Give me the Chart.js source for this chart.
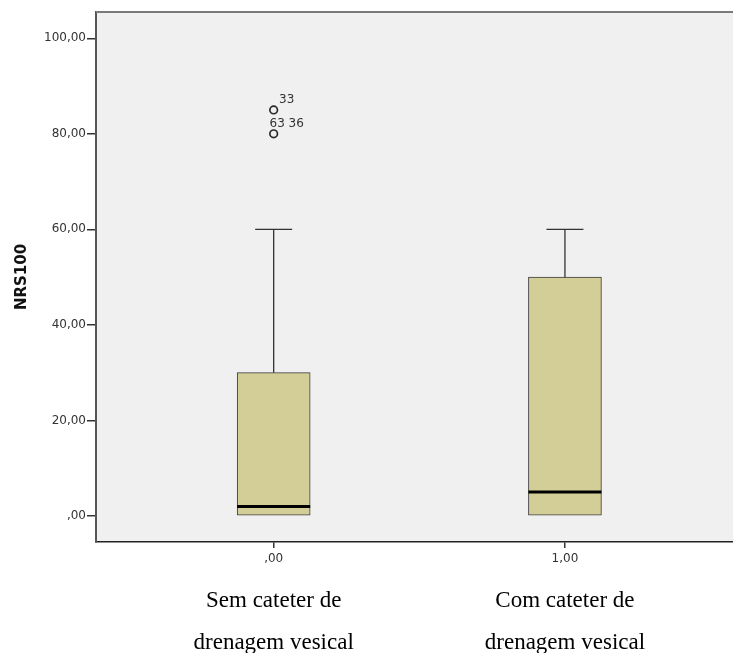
<!DOCTYPE html>
<html>
<head>
<meta charset="utf-8">
<script src="https://cdn.jsdelivr.net/npm/chart.js@4/dist/chart.umd.min.js"></script>
<style>
  html, body { margin: 0; padding: 0; background: #ffffff; }
  #wrap { width: 733px; height: 653px; }
</style>
</head>
<body>
<div id="wrap"><canvas id="c" width="733" height="653"></canvas></div>
<script>
// ---- data ----
const categories = ['Sem cateter de\ndrenagem vesical', 'Com cateter de\ndrenagem vesical'];
const groupCodes = [0, 1];
const xTickLabels = [',00', '1,00'];
const yTickValues = [0, 20, 40, 60, 80, 100];
const yTickLabels = [',00', '20,00', '40,00', '60,00', '80,00', '100,00'];
const whiskerLow = [0, 0];
const q1 = [0, 0];
const median = [2, 5];
const q3 = [30, 50];
const whiskerHigh = [60, 60];
const outlierGroup = [0, 0];
const outlierValue = [85, 80];
const outlierLabel = ['33', '63 36'];
const yTitle = 'NRS100';

// ---- styles ----
const boxHalf = 0.1253;   // half box width in x units (73px)
const capHalf = 0.0635;   // half whisker cap width in x units (37px)

// ---- build datasets ----
const boxData = groupCodes.map((g, i) => ({ x: g, y: [q1[i], q3[i]] }));
const whiskerData = [];
groupCodes.forEach((g, i) => {
  if (whiskerHigh[i] > q3[i]) {
    whiskerData.push({ x: g, y: q3[i] }, { x: g, y: whiskerHigh[i] }, { x: g, y: null });
    whiskerData.push({ x: g - capHalf, y: whiskerHigh[i] }, { x: g + capHalf, y: whiskerHigh[i] }, { x: g, y: null });
  }
  if (whiskerLow[i] < q1[i]) {
    whiskerData.push({ x: g, y: q1[i] }, { x: g, y: whiskerLow[i] }, { x: g, y: null });
    whiskerData.push({ x: g - capHalf, y: whiskerLow[i] }, { x: g + capHalf, y: whiskerLow[i] }, { x: g, y: null });
  }
});
const medianData = [];
groupCodes.forEach((g, i) => {
  medianData.push({ x: g - boxHalf, y: median[i] }, { x: g + boxHalf, y: median[i] }, { x: g, y: null });
});
const outlierData = outlierGroup.map((g, i) => ({ x: g, y: outlierValue[i] }));

Chart.defaults.font.family = "'DejaVu Sans', sans-serif";
Chart.defaults.color = '#333';

const frameBg = {
  id: 'frameBg',
  beforeDraw(chart) {
    const { ctx, chartArea: a } = chart;
    ctx.save();
    ctx.fillStyle = '#f0f0f0';
    ctx.fillRect(a.left, a.top, chart.width - a.left, a.bottom - a.top);
    ctx.restore();
  },
  afterDraw(chart) {
    const { ctx, chartArea: a } = chart;
    ctx.save();
    ctx.strokeStyle = '#7a7a7a';
    ctx.lineWidth = 2;
    ctx.beginPath();
    ctx.moveTo(a.left, a.top);
    ctx.lineTo(chart.width, a.top);
    ctx.stroke();
    // outlier labels
    const xs = chart.scales.x, ys = chart.scales.y;
    ctx.fillStyle = '#333';
    ctx.font = "12px 'DejaVu Sans'";
    ctx.textAlign = 'center';
    ctx.textBaseline = 'bottom';
    outlierGroup.forEach((g, i) => {
      const px = xs.getPixelForValue(g);
      const py = ys.getPixelForValue(outlierValue[i]);
      ctx.fillText(outlierLabel[i], px + 13, py - 4);
    });
    ctx.restore();
  }
};

new Chart(document.getElementById('c'), {
  type: 'bar',
  data: {
    datasets: [
      {
        type: 'line', data: outlierData, showLine: false, order: 0,
        pointStyle: 'circle', pointRadius: 3.8, pointBorderWidth: 1.7,
        pointBorderColor: '#2a2a2a', pointBackgroundColor: 'rgba(0,0,0,0)'
      },
      {
        type: 'line', data: medianData, order: 1, borderColor: '#000', borderWidth: 3,
        pointRadius: 0, spanGaps: false, borderCapStyle: 'butt'
      },
      {
        type: 'line', data: whiskerData, order: 2, borderColor: '#333', borderWidth: 1.3,
        pointRadius: 0, spanGaps: false, borderCapStyle: 'butt'
      },
      {
        type: 'bar', data: boxData, order: 3, barThickness: 73,
        backgroundColor: '#d3ce97', borderColor: '#3c3c3c', borderWidth: 1,
        borderSkipped: false, grouped: false
      }
    ]
  },
  options: {
    responsive: false,
    animation: false,
    devicePixelRatio: 1,
    layout: { autoPadding: false, padding: { top: 12, right: 0, left: 0, bottom: 0 } },
    plugins: { legend: { display: false }, tooltip: { enabled: false } },
    scales: {
      x: {
        type: 'linear', position: 'bottom', weight: 0,
        min: -0.610, max: 1.577, offset: false,
        afterBuildTicks: s => { s.ticks = groupCodes.map(v => ({ value: v })); },
        afterFit: s => { s.height = 24; s.paddingLeft = 0; s.paddingRight = 0; },
        ticks: {
          callback: (v) => xTickLabels[groupCodes.indexOf(v)],
          font: { size: 12 }, color: '#333', padding: 4, maxRotation: 0, autoSkip: false
        },
        grid: { offset: false, drawOnChartArea: false, drawTicks: true, tickLength: 6, tickColor: '#333', lineWidth: 1.5 },
        border: { display: true, color: '#222', width: 1.5 }
      },
      x2: {
        type: 'linear', position: 'bottom', weight: 1,
        min: -0.610, max: 1.577, offset: false,
        afterBuildTicks: s => { s.ticks = groupCodes.map(v => ({ value: v })); },
        afterFit: s => { s.height = 87; s.paddingLeft = 0; s.paddingRight = 0; },
        ticks: {
          callback: (v) => categories[groupCodes.indexOf(v)].split('\n'),
          font: { family: "'Liberation Serif', serif", size: 23, lineHeight: 42 / 23 },
          color: '#000', padding: 6, maxRotation: 0, autoSkip: false
        },
        grid: { display: false, offset: false },
        border: { display: false }
      },
      y: {
        type: 'linear', position: 'left',
        min: -5.44, max: 105.5,
        afterBuildTicks: s => { s.ticks = yTickValues.map(v => ({ value: v })); },
        afterFit: s => { s.width = 96; },
        ticks: {
          callback: (v) => yTickLabels[yTickValues.indexOf(v)],
          font: { size: 12 }, color: '#333', padding: 1
        },
        grid: { drawOnChartArea: false, drawTicks: true, tickLength: 9, tickColor: '#333', lineWidth: 1.5 },
        border: { display: true, color: '#555', width: 2 },
        title: {
          display: true, text: yTitle, color: '#111',
          font: { size: 15, weight: 'bold' }, padding: { top: 13, bottom: 0 }
        }
      }
    }
  },
  plugins: [frameBg]
});
</script>
</body>
</html>
